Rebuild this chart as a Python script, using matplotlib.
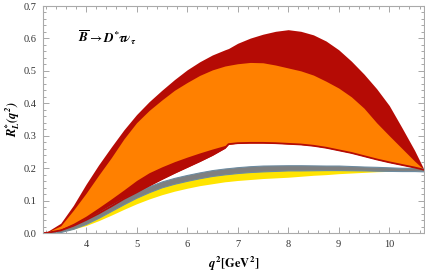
import matplotlib
matplotlib.use("Agg")
import matplotlib.pyplot as plt
import numpy as np
from matplotlib.ticker import MultipleLocator

plt.rcParams['mathtext.fontset'] = 'stix'
plt.rcParams['font.family'] = 'Liberation Serif'

# q^2 grid points
q2 = [3.157, 3.25, 3.5, 3.75, 4.0, 4.25, 4.5, 4.75, 5.0, 5.25, 5.5, 5.75, 6.0, 6.25,
      6.5, 6.75, 6.82, 7.0, 7.25, 7.5, 7.75, 8.0, 8.25, 8.5, 8.75, 9.0, 9.25, 9.5,
      9.75, 10.0, 10.25, 10.5, 10.69]

# outer (dark red) band
red_hi = [0, .006, .03, .085, .15, .21, .265, .318, .365, .405, .44, .473, .503, .528,
          .549, .565, .569, .585, .601, .613, .622, .627, .622, .611, .592, .565, .53, .49,
          .445, .393, .325, .255, .195]
red_lo = [0, .001, .008, .022, .04, .06, .082, .105, .125, .146, .166, .185, .203, .221,
          .24, .262, .274, .277, .278, .278, .277, .275, .273, .269, .263, .255, .247, .237,
          .227, .218, .21, .202, .195]

# inner (orange) band
orange_hi = [0, .004, .022, .07, .122, .178, .232, .29, .34, .378, .41, .44, .464, .486,
             .503, .515, .517, .522, .526, .525, .518, .509, .5, .487, .468, .447, .42, .385,
             .34, .3, .261, .222, .195]
orange_lo = [0, .002, .012, .03, .052, .078, .105, .133, .162, .186, .204, .22, .234, .247,
             .259, .27, .274, .277, .278, .278, .277, .275, .273, .269, .263, .255, .247, .237,
             .227, .218, .21, .202, .195]

# gray band (centre, half width) and yellow band lower edge
gray_mid = [0, .001, .006, .018, .035, .055, .077, .098, .118, .135, .15, .161, .17, .178,
            .185, .19, .191, .194, .197, .199, .2, .201, .201, .201, .201, .201, .2, .199,
            .198, .197, .196, .196, .195]
gray_hw = [0, .001, .003, .005, .007, .008, .009, .009, .009, .009, .009, .009, .009, .009,
           .009, .009, .009, .009, .009, .009, .0085, .008, .008, .0075, .007, .007, .0065, .006,
           .006, .0055, .005, .005, .005]
yellow_lo = [0, 0, .004, .012, .023, .038, .055, .073, .09, .105, .118, .129, .138, .146,
             .152, .158, .159, .162, .165, .168, .17, .172, .175, .178, .18, .183, .185, .187,
             .189, .19, .192, .193, .195]

q2 = np.array(q2)
gm = np.array(gray_mid)
gw = np.array(gray_hw)

fig = plt.figure(figsize=(4.25, 2.73), dpi=100)
ax = fig.add_axes([0.102, 0.1465, 0.896, 0.8315])

ax.fill_between(q2, yellow_lo, gm, color='#ffe400', lw=0)
ax.fill_between(q2, red_lo, red_hi, color='#b50b05', lw=0)
ax.plot(q2, red_lo, color='#b50b05', lw=1.3)
ax.fill_between(q2, orange_lo, orange_hi, color='#ff8000', lw=0)
ax.fill_between(q2, gm - gw, gm + gw, color='#7f8080', lw=0.8, edgecolor='#6d8ba0')

ax.set_xlim(3.157, 10.69)
ax.set_ylim(0, 0.7)
ax.xaxis.set_major_locator(MultipleLocator(1))
ax.xaxis.set_minor_locator(MultipleLocator(0.2))
ax.yaxis.set_major_locator(MultipleLocator(0.1))
ax.yaxis.set_minor_locator(MultipleLocator(0.02))
ax.yaxis.set_major_formatter(plt.FuncFormatter(lambda v, p: '%.1f' % v))
ax.tick_params(which='both', direction='in', top=True, right=True,
               color='#999999', labelsize=7.5, labelcolor='#333333', width=0.6)
ax.tick_params(which='major', length=4, pad=5)
ax.tick_params(which='minor', length=2)
for s in ax.spines.values():
    s.set_color('#aaaaaa')
    s.set_linewidth(0.8)

ax.text(0.09, 0.86, r'$\mathbfit{\overline{B}}\rightarrow\mathbfit{D^{*}\tau\nu_{\tau}}$',
        transform=ax.transAxes, fontsize=9.5, va='center')
ax.set_ylabel(r'$\mathbfit{R^{*}_{L}(q^{2})}$', fontsize=9, labelpad=1)
ax.set_xlabel(r'$\mathbfit{q}^{\,\mathbf{2}}\mathbf{[GeV^{2}]}$', fontsize=9, labelpad=4)

fig.savefig('out.png', dpi=100)
